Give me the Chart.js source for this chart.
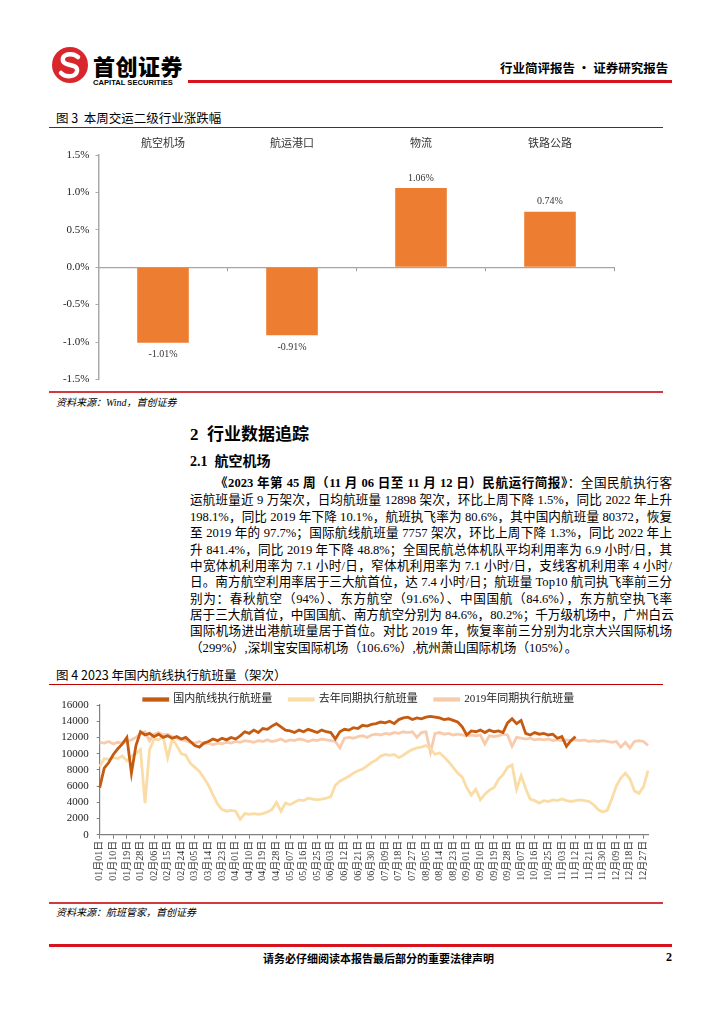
<!DOCTYPE html>
<html>
<head>
<meta charset="utf-8">
<script src="https://cdn.jsdelivr.net/npm/chart.js@4.4.0/dist/chart.umd.min.js"></script>
<style>
  body { margin: 0; background: #fff; }
  #page { position: relative; width: 724px; height: 1024px; overflow: hidden;
          font-family: 'Liberation Serif', 'Noto Sans CJK SC', serif; color: #000; }
  .abs { position: absolute; white-space: nowrap; }
  .line { position: absolute; }
  .fig-title { font-family: 'Noto Sans CJK SC', sans-serif; font-size: 12.5px; line-height: 16px; }
  .source { font-size: 10px; font-style: italic; line-height: 12px; }
  .para { position: absolute; left: 190px; width: 482px; font-size: 12.6px; line-height: 16px;
          white-space: nowrap; text-align: justify; text-align-last: justify; }
  .para.last { text-align-last: left; }
  canvas { position: absolute; }
</style>
</head>
<body>
<div id="page">
  <!-- header -->
  <svg class="abs" style="left:51px;top:46px" width="38" height="38" viewBox="0 0 38 38">
    <circle cx="19" cy="19" r="18" fill="#D9262C"/>
    <path d="M27 11 C21 6,10 8,12 15 C14 21,27 17,26 25 C25 31,15 32,10 27" stroke="#fff" stroke-width="4.5" fill="none" stroke-linecap="round"/>
  </svg>
  <div class="abs" style="left:93px;top:52px;font-family:'Noto Sans CJK SC';font-weight:900;font-size:22px;line-height:26px;letter-spacing:0.5px">首创证券</div>
  <div class="abs" style="left:93px;top:78px;font-family:'Liberation Sans';font-weight:bold;font-size:7.6px;line-height:9px">CAPITAL SECURITIES</div>
  <div class="abs" style="left:500px;top:60px;font-family:'Noto Sans CJK SC';font-weight:bold;font-size:12.5px;line-height:16px">行业简评报告 · 证券研究报告</div>
  <div class="line" style="left:188px;top:80px;width:484px;height:3px;background:#D8131E"></div>

  <!-- figure 3 -->
  <div class="abs fig-title" style="left:56px;top:110px">图 3&nbsp; 本周交运二级行业涨跌幅</div>
  <div class="line" style="left:49px;top:127px;width:614px;height:1px;background:#C00000"></div>
  <canvas id="changeChart" width="600" height="262" style="left:40px;top:130px"></canvas>
  <div class="line" style="left:49px;top:391px;width:614px;height:2px;background:#D23A3F"></div>
  <div class="abs source" style="left:56px;top:397px">资料来源：Wind，首创证券</div>

  <!-- section text -->
  <div class="abs" style="left:190px;top:424px;font-family:'Liberation Serif','Noto Sans CJK SC';font-weight:bold;font-size:17px;line-height:22px">2&nbsp; 行业数据追踪</div>
  <div class="abs" style="left:190px;top:453px;font-family:'Liberation Serif','Noto Sans CJK SC';font-weight:bold;font-size:14px;line-height:18px">2.1&nbsp; 航空机场</div>

  <div class="para" style="top:475px;left:215px;width:457px"><b>《2023 年第 45 周（11 月 06 日至 11 月 12 日）民航运行简报》</b>：全国民航执行客</div>
  <div class="para" style="top:492px">运航班量近 9 万架次，日均航班量 12898 架次，环比上周下降 1.5%，同比 2022 年上升</div>
  <div class="para" style="top:509px">198.1%，同比 2019 年下降 10.1%，航班执飞率为 80.6%，其中国内航班量 80372，恢复</div>
  <div class="para" style="top:525px">至 2019 年的 97.7%；国际航线航班量 7757 架次，环比上周下降 1.3%，同比 2022 年上</div>
  <div class="para" style="top:542px">升 841.4%，同比 2019 年下降 48.8%；全国民航总体机队平均利用率为 6.9 小时/日，其</div>
  <div class="para" style="top:558px">中宽体机利用率为 7.1 小时/日，窄体机利用率为 7.1 小时/日，支线客机利用率 4 小时/</div>
  <div class="para" style="top:574px">日。南方航空利用率居于三大航首位，达 7.4 小时/日；航班量 Top10 航司执飞率前三分</div>
  <div class="para" style="top:591px">别为：春秋航空（94%）、东方航空（91.6%）、中国国航（84.6%），东方航空执飞率</div>
  <div class="para" style="top:607px">居于三大航首位，中国国航、南方航空分别为 84.6%，80.2%；千万级机场中，广州白云</div>
  <div class="para" style="top:623px">国际机场进出港航班量居于首位。对比 2019 年，恢复率前三分别为北京大兴国际机场</div>
  <div class="para last" style="top:640px">（299%）,深圳宝安国际机场（106.6%）,杭州萧山国际机场（105%）。</div>

  <!-- figure 4 -->
  <div class="abs fig-title" style="left:56px;top:667px">图 4 2023 年国内航线执行航班量（架次）</div>
  <div class="line" style="left:49px;top:684px;width:614px;height:1px;background:#C00000"></div>
  <canvas id="flightChart" width="630" height="213" style="left:40px;top:677px"></canvas>
  <div class="line" style="left:49px;top:902px;width:614px;height:2px;background:#D23A3F"></div>
  <div class="abs source" style="left:56px;top:907px">资料来源：航班管家，首创证券</div>

  <!-- footer -->
  <div class="line" style="left:49px;top:944px;width:623px;height:3px;background:#D8131E"></div>
  <div class="abs" style="left:263px;top:951px;font-family:'Noto Sans CJK SC';font-weight:bold;font-size:11px;line-height:14px">请务必仔细阅读本报告最后部分的重要法律声明</div>
  <div class="abs" style="left:666px;top:950px;font-weight:bold;font-size:12px;line-height:14px">2</div>
</div>

<script>
// ---- figure 3: weekly change by sub-industry ----
const industryNames = ['航空机场', '航运港口', '物流', '铁路公路'];
const weeklyChange = [-1.01, -0.91, 1.06, 0.74];

// ---- figure 4: daily domestic flights, sampled every 3 days from Jan 1 ----
const sampleStepDays = 3;
const flights2023 = [
  5800, 8200, 8900, 9900, 10600, 11200, 12000, 7600, 11000, 12700,
  12300, 12500, 12100, 12400, 12000, 12200, 11900, 12100, 11800, 12000,
  11500, 11000, 10800, 11300, 11500, 11800, 11600, 11900, 11700, 12000,
  11800, 12200, 12700, 12500, 12900, 12600, 13100, 13000, 13400, 13700,
  13300, 12900, 12800, 12600, 12900, 12700, 13000, 12800, 12600, 12900,
  12700, 12600, 11800, 12700, 13000, 12900, 13200, 13100, 13500, 13400,
  13600, 13700, 13900, 13800, 14000, 13700, 14200, 14400, 14500, 14200,
  14400, 14300, 14500, 14600, 14500, 14400, 14200, 14300, 14100, 13900,
  13300, 12300, 12800, 12700, 12900, 12600, 12900, 12700, 12800, 12600,
  13800, 14300, 13700, 14100, 12500, 12300, 12600, 12400, 12500, 12300,
  12400, 11900, 12100, 10900, 11600, 12100
];
const flights2022 = [
  8400, 9400, 9300, 9500, 9400, 9700, 9100, 9700, 10000, 10500,
  3900, 10500, 11800, 11700, 12100, 9500, 11800, 11000, 10000, 9800,
  8800, 8300, 7800, 7000, 6100, 4900, 3800, 3100, 2900, 3000,
  2900, 1900, 2600, 2500, 2600, 2500, 2600, 2800, 3100, 4000,
  2900, 3900, 3700, 4000, 4300, 4200, 4500, 4400, 4300, 4400,
  4500, 4700, 6100, 6600, 6900, 7200, 7600, 7900, 8100, 8500,
  8900, 9200, 9700, 9900, 9800, 9900, 9500, 9800, 10200, 10500,
  10700, 10800, 11000, 10600, 9900, 10100, 9600, 9000, 8300, 7600,
  7100, 5800, 4900, 5600, 4300, 5000, 5500, 5800, 6800, 7400,
  8300, 8600, 5600, 7300, 5700, 4400, 4200, 3900, 4200, 4100,
  4300, 4200, 4400, 4200, 4100, 4200, 4300, 4200, 4100, 3700,
  3100, 2800, 3000, 4400, 6000, 7000, 7600, 6900, 5400, 5100,
  5900, 7900
];
const flights2019 = [
  11400, 11300, 11500, 11200, 11400, 11300, 11500, 11700, 12000, 12500,
  12700, 11600, 12400, 12600, 12300, 12400, 12100, 11900, 11700, 11600,
  11400, 11300, 11500, 11200, 11300, 11100, 11300, 11200, 11400, 11300,
  11500, 11400, 11600, 11500, 11400, 11600, 11500, 11700, 11500, 11600,
  11800, 11500, 11700, 11600, 11800, 11700, 11500, 11700, 11600, 11800,
  11700, 11600, 11500, 10700, 11900, 12000, 11900, 12100, 12200, 12000,
  12300, 12400, 12300, 12500, 12400, 12600, 12500, 12700, 12600, 12700,
  12000, 12600, 12700, 10200, 12500, 12600, 12400, 12500, 12300, 12400,
  12300, 12200, 12300, 12200, 12300, 11200, 12200, 12100, 12200, 12400,
  12300, 10900, 12000, 11900, 11800, 11900, 11700, 11800, 11700, 11800,
  11600, 11700, 11600, 11700, 11600, 11700, 11600, 11700, 11500, 11600,
  11500, 11600, 11500, 11400, 11500, 10800, 11400, 10700, 11500, 11600,
  11500, 11000
];
const seriesNames = ['国内航线执行航班量', '去年同期执行航班量', '2019年同期执行航班量'];
const labelEvery = 3; // one tick label per 9 days

const CN = "'Noto Sans CJK SC', sans-serif";
const SERIF = "'Liberation Serif', 'Noto Sans CJK SC', serif";

// category labels: MM月DD日 for each sampled day
function dayLabel(dayIndex) {
  const d = new Date(2023, 0, 1 + dayIndex);
  const pad = n => String(n).padStart(2, '0');
  return pad(d.getMonth() + 1) + '月' + pad(d.getDate()) + '日';
}
const dayLabels = flights2019.map((_, i) => dayLabel(i * sampleStepDays));

// value labels on the bars
const barLabels = {
  id: 'barLabels',
  afterDatasetsDraw(chart) {
    const ctx = chart.ctx;
    const values = chart.data.datasets[0].data;
    ctx.save();
    ctx.font = '10px ' + SERIF;
    ctx.fillStyle = '#333';
    ctx.textAlign = 'center';
    ctx.textBaseline = 'middle';
    chart.getDatasetMeta(0).data.forEach((bar, i) => {
      const v = values[i];
      const y = v >= 0 ? bar.y - 10 : bar.y + 12;
      ctx.fillText(v.toFixed(2) + '%', bar.x, y);
    });
    ctx.restore();
  }
};

// legend sits close to the plot and a little right of the canvas centre
const tightLegend = {
  id: 'tightLegend',
  beforeInit(chart) {
    const fit = chart.legend.fit;
    chart.legend.fit = function () { fit.call(this); this.height -= 10; };
  },
  afterLayout(chart) {
    chart.legend.left += 30;
  }
};

new Chart(document.getElementById('changeChart'), {
  type: 'bar',
  data: {
    labels: industryNames,
    datasets: [{
      data: weeklyChange,
      backgroundColor: '#ED7D31',
      categoryPercentage: 1,
      barPercentage: 0.4
    }]
  },
  options: {
    responsive: false,
    animation: false,
    devicePixelRatio: 1,
    layout: { padding: { right: 25.5, bottom: 10, top: 0, left: 0 } },
    plugins: { legend: { display: false }, tooltip: { enabled: false } },
    scales: {
      x: {
        position: 'top',
        grid: { display: false },
        border: { display: false },
        ticks: { color: '#333', font: { size: 11, family: CN }, padding: -2 },
        afterFit(s) { s.height = 25; }
      },
      x0: {
        type: 'category',
        position: { y: 0 },
        grid: { offset: true, drawOnChartArea: false, tickLength: 3, color: '#999' },
        border: { color: '#a6a6a6', width: 1.2 },
        ticks: { display: false }
      },
      y: {
        min: -1.5, max: 1.5,
        ticks: { stepSize: 0.5, color: '#222', font: { size: 11, family: SERIF }, padding: 6,
                 callback: v => v.toFixed(1) + '%' },
        grid: { drawOnChartArea: false, tickLength: 3, color: '#aaa' },
        border: { color: '#aaa', width: 1.5 },
        afterFit(s) { s.width = 58.5; }
      }
    }
  },
  plugins: [barLabels]
});

new Chart(document.getElementById('flightChart'), {
  type: 'line',
  data: {
    labels: dayLabels,
    datasets: [
      { label: seriesNames[0], data: flights2023, borderColor: '#C55A11', backgroundColor: '#C55A11' },
      { label: seriesNames[1], data: flights2022, borderColor: '#FADDA6', backgroundColor: '#FADDA6' },
      { label: seriesNames[2], data: flights2019, borderColor: '#F8CBAD', backgroundColor: '#F8CBAD' }
    ]
  },
  options: {
    responsive: false,
    animation: false,
    devicePixelRatio: 1,
    elements: { point: { radius: 0 }, line: { borderWidth: 2.8, tension: 0 } },
    layout: { padding: { right: 22, left: 0, top: 0, bottom: 0 } },
    plugins: {
      tooltip: { enabled: false },
      legend: {
        position: 'top',
        labels: {
          boxWidth: 24, boxHeight: 1.5,
          padding: 17, color: '#222', font: { size: 11, family: SERIF }
        }
      }
    },
    scales: {
      x: {
        grid: {
          drawOnChartArea: false, tickLength: 4,
          color: c => (c.index % labelEvery === 0 ? '#808080' : 'rgba(0,0,0,0)')
        },
        border: { color: '#808080', width: 1.2 },
        ticks: {
          autoSkip: false, minRotation: 90, maxRotation: 90, padding: 2,
          color: '#333', font: { size: 10, family: SERIF },
          callback(v, i) { return i % labelEvery === 0 ? this.getLabelForValue(v) : ''; }
        },
        afterFit(s) { s.height = 55.3; }
      },
      y: {
        min: 0, max: 16000,
        ticks: { stepSize: 2000, autoSkip: false, color: '#222', font: { size: 11, family: SERIF },
                 padding: 8, callback: v => String(v) },
        grid: { drawOnChartArea: false, tickLength: 3, color: '#808080' },
        border: { color: '#808080', width: 1.2 },
        afterFit(s) { s.width = 59.7; }
      }
    }
  },
  plugins: [tightLegend]
});
</script>
</body>
</html>
